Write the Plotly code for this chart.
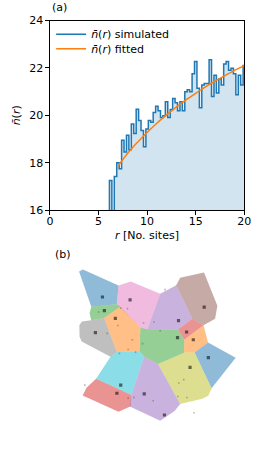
import plotly.graph_objects as go

# ---------------- panel (a) data ----------------
bin_left = 6.125
bin_width = 0.25
n_sim = [17.25, 15.8, 17.42, 18.0, 17.75, 18.95, 18.45, 19.16, 18.55, 19.64,
         19.23, 20.26, 19.78, 19.36, 18.68, 19.43, 19.78, 19.71, 20.12, 20.39,
         20.19, 19.91, 19.98, 20.57, 19.91, 20.25, 20.71, 20.53, 20.19, 20.57,
         20.19, 21.0, 21.08, 21.0, 21.76, 22.27, 21.14, 20.32, 21.28, 21.35,
         21.35, 22.35, 20.8, 21.69, 20.94, 21.55, 21.28, 22.17, 22.27, 21.9,
         21.99, 21.76, 20.87, 21.69, 21.28, 22.1]
r_fit = [7, 8, 9, 10, 11, 12, 13, 14, 15, 16, 17, 18, 19, 20]
n_fit = [17.85, 18.4, 18.86, 19.28, 19.67, 20.02, 20.35, 20.65, 20.93, 21.2,
         21.45, 21.68, 21.9, 22.1]
x_ticks = [0, 5, 10, 15, 20]
y_ticks = [16, 18, 20, 22, 24]

# ---------------- panel (b) data: Voronoi cells ----------------
cells = {
    "blue_tl":   ([31, 35, 72, 70.3, 43.7], [167, 169, 152.5, 133.3, 130.7]),
    "pink":      ([72, 84.7, 115.3, 102, 94.7, 73.7, 70.3], [152.5, 156.7, 144, 107.5, 109.3, 130.7, 133.3]),
    "purple_t":  ([115.3, 132, 148.7, 133.7, 102], [144, 152.7, 118.3, 107.3, 107.5]),
    "brown":     ([132, 136, 160.8, 174.7, 172.3, 160.3, 148.7], [152.7, 160.5, 165.8, 131.7, 118.3, 111.7, 118.3]),
    "red_s":     ([148.7, 160.3, 140.3, 133.7], [118.3, 111.7, 96.7, 107.3]),
    "orange_s":  ([160.3, 165, 151, 140, 140.3], [111.7, 94, 83.5, 83.3, 96.7]),
    "blue_r":    ([151, 165, 193.7, 179, 168.7], [83.5, 94, 78.3, 59, 46.7]),
    "olive":     ([113, 140, 151, 168.7, 165.3, 159, 136], [71.7, 83.3, 83.5, 46.7, 39, 36, 30.7]),
    "green_c":   ([94.7, 102, 133.7, 140.3, 140, 113, 98.7, 93.7], [109.3, 107.5, 107.3, 96.7, 83.3, 71.7, 79.5, 85]),
    "orange_b":  ([73.7, 94.7, 93.7, 70.3, 57], [130.7, 109.3, 85, 84, 119]),
    "green_s":   ([43.7, 70.3, 73.7, 57, 43.7, 42], [130.7, 133.3, 130.7, 119, 116.7, 124]),
    "gray":      ([31.3, 34, 43.7, 57, 70.3, 63.7, 33.7, 31.5], [111.5, 115.5, 116.7, 119, 84, 79.3, 95, 100]),
    "cyan":      ([63.7, 70.3, 93.7, 98.7, 85.3, 48.7], [79.3, 84, 85, 79.5, 40, 56.7]),
    "red_b":     ([48.7, 85.3, 84.7, 72, 34.7, 38.7], [56.7, 40, 28.3, 22.7, 39.3, 47.3]),
    "purple_b":  ([98.7, 113, 136, 130.3, 115.3, 83.7, 85.3], [79.5, 71.7, 30.7, 23.3, 13.3, 28, 40]),
}
cell_colors = {
    "blue_tl": "#1f77b4", "pink": "#e377c2", "purple_t": "#9467bd", "brown": "#8c564b",
    "red_s": "#d62728", "orange_s": "#ff7f0e", "blue_r": "#1f77b4", "olive": "#bcbd22",
    "green_c": "#2ca02c", "orange_b": "#ff7f0e", "green_s": "#2ca02c", "gray": "#7f7f7f",
    "cyan": "#17becf", "red_b": "#d62728", "purple_b": "#9467bd",
}
seed_x = [55.3, 84, 57.3, 68.7, 48, 134.3, 161, 142.7, 133.3, 149.7, 165.3, 146.3, 74.3, 70.3, 119.7, 98.7]
seed_y = [140.7, 137.7, 126.7, 118.7, 104, 116.3, 130.3, 104.7, 99, 96.7, 78.3, 68.3, 50, 41.7, 19.3, 41]
site_x = [120.3, 74.3, 81.3, 51.3, 71.3, 60.3, 98, 108.7, 115.3, 86.3, 97, 82, 73, 89.7, 37,
          82, 88, 108, 134.7, 139.7, 133.7, 143, 150.3]
site_y = [148.3, 129.3, 128.7, 125.3, 111.3, 103.3, 114, 115, 106, 96.7, 92.7, 86.7, 82.7, 84, 50,
          36.7, 37.3, 34, 52.3, 55.7, 38.3, 37.3, 21.7]

W, H = 268, 468
FONT = "DejaVu Sans"
FS = 11


def hex_rgba(h, a):
    h = h.lstrip("#")
    return "rgba(%d,%d,%d,%.2f)" % (int(h[0:2], 16), int(h[2:4], 16), int(h[4:6], 16), a)


fig = go.Figure()

# step histogram: fill + outline
edges = [bin_left + i * bin_width for i in range(len(n_sim) + 1)]
xs = [edges[0]] + edges[:-1] + [edges[-1]]
ys = [0] + n_sim + [n_sim[-1]]
fig.add_trace(go.Scatter(
    x=xs, y=ys, mode="lines", line=dict(shape="hv", width=0),
    fill="tozeroy", fillcolor="rgba(31,119,180,0.2)", hoverinfo="skip",
    showlegend=False, xaxis="x", yaxis="y"))
fig.add_trace(go.Scatter(
    x=xs, y=ys, mode="lines", line=dict(shape="hv", color="#1f77b4", width=1.5),
    name="<i>n\u0304</i>(<i>r</i>) simulated", legend="legend", xaxis="x", yaxis="y"))
fig.add_trace(go.Scatter(
    x=r_fit, y=n_fit, mode="lines", line=dict(color="#ff7f0e", width=1.5, shape="spline"),
    name="<i>n\u0304</i>(<i>r</i>) fitted", legend="legend2", xaxis="x", yaxis="y"))

# voronoi cells
for k, (cx, cy) in cells.items():
    fig.add_trace(go.Scatter(
        x=cx + [cx[0]], y=cy + [cy[0]], mode="lines", fill="toself",
        fillcolor=hex_rgba(cell_colors[k], 0.5), line=dict(width=0),
        hoverinfo="skip", showlegend=False, xaxis="x2", yaxis="y2"))
fig.add_trace(go.Scatter(
    x=site_x, y=site_y, mode="markers",
    marker=dict(symbol="square", size=1.6, color="rgba(60,60,60,0.35)", line=dict(width=0)),
    showlegend=False, xaxis="x2", yaxis="y2"))
fig.add_trace(go.Scatter(
    x=seed_x, y=seed_y, mode="markers",
    marker=dict(symbol="square", size=3.2, color="rgba(0,0,0,0.55)", line=dict(width=0)),
    showlegend=False, xaxis="x2", yaxis="y2"))

ax_common = dict(showline=True, linecolor="black", linewidth=1, mirror=True,
                 ticks="outside", ticklen=3.5, tickwidth=1, tickcolor="black",
                 showgrid=False, zeroline=False,
                 tickfont=dict(family=FONT, size=FS, color="black"))

leg_common = dict(xanchor="left", yanchor="middle", bgcolor="rgba(0,0,0,0)",
                  borderwidth=0, font=dict(family=FONT, size=FS, color="black"),
                  itemwidth=30)

fig.update_layout(
    width=W, height=H, margin=dict(l=0, r=0, t=0, b=0),
    paper_bgcolor="white", plot_bgcolor="white",
    font=dict(family=FONT, size=FS, color="black"),
    xaxis=dict(domain=[48.7 / W, 250.7 / W], range=[0, 20], tickvals=x_ticks,
               anchor="y", ticklabelstandoff=-3, **ax_common),
    yaxis=dict(domain=[1 - 210 / H, 1 - 15 / H], range=[16, 24], tickvals=y_ticks,
               anchor="x", **ax_common),
    xaxis2=dict(domain=[48 / W, 252 / W], range=[0, 204], visible=False, anchor="y2"),
    yaxis2=dict(domain=[1 - 440 / H, 1 - 262 / H], range=[0, 178], visible=False, anchor="x2"),
    showlegend=True,
    legend=dict(x=50 / W, y=1 - 29 / H, **leg_common),
    legend2=dict(x=50 / W, y=1 - 44 / H, **leg_common),
    annotations=[
        dict(text="(a)", x=49 / W, y=1 - 2 / H, xref="paper", yref="paper",
             xanchor="left", yanchor="middle", showarrow=False, font=dict(size=FS)),
        dict(text="(b)", x=52 / W, y=1 - 256 / H, xref="paper", yref="paper",
             xanchor="left", yanchor="middle", showarrow=False, font=dict(size=FS)),
        dict(text="<i>n\u0304</i>(<i>r</i>)", x=14 / W, y=1 - 112 / H, xref="paper", yref="paper",
             xanchor="center", yanchor="middle", textangle=-90, showarrow=False,
             font=dict(size=FS)),
        dict(text="<i>r</i> [No. sites]", x=150 / W, y=1 - 236.5 / H, xref="paper", yref="paper",
             xanchor="center", yanchor="middle", showarrow=False, font=dict(size=FS)),
    ],
)

fig.write_html("out.html", config={"displayModeBar": False},
               post_script="document.body.style.margin='0px';")
